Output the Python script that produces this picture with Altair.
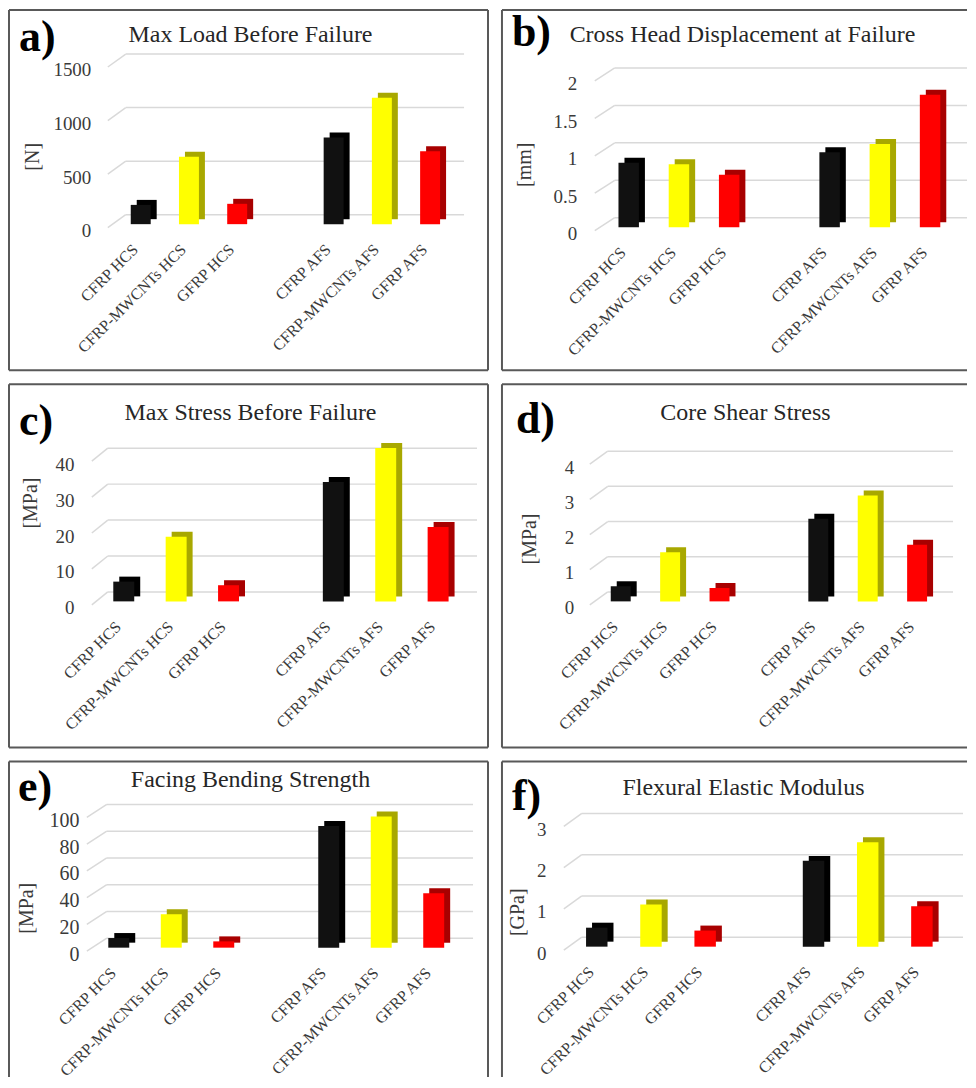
import altair as alt
import pandas as pd

# ---------------- data ----------------
categories = ["CFRP HCS", "CFRP-MWCNTs HCS", "GFRP HCS",
              "CFRP AFS", "CFRP-MWCNTs AFS", "GFRP AFS"]
spacer = " "
x_domain = categories[:3] + [spacer] + categories[3:]
front_colors = ["#111111", "#ffff00", "#ff0000"] * 2
side_colors = ["#000000", "#a8a800", "#a80000"] * 2

max_load = [180, 630, 190, 810, 1180, 680]
crosshead_disp = [0.86, 0.84, 0.70, 1.00, 1.11, 1.77]
max_stress = [5.5, 18.0, 4.5, 33.2, 42.7, 20.7]
core_shear = [0.43, 1.40, 0.38, 2.35, 3.01, 1.61]
facing_bending = [7.2, 25.0, 4.7, 91.0, 98.0, 40.7]
flexural_modulus = [0.46, 1.02, 0.39, 2.08, 2.53, 0.98]

ticks_a = [0, 500, 1000, 1500]
ticks_b = [0, 0.5, 1, 1.5, 2]
ticks_c = [0, 10, 20, 30, 40]
ticks_d = [0, 1, 2, 3, 4]
ticks_e = [0, 20, 40, 60, 80, 100]
ticks_f = [0, 1, 2, 3]

SERIF = "Liberation Serif"
TXT = "#3a3a3a"
BORDER = "#595959"
DEPTH = 9.5

W1, W2 = 480, 466
H1, H2, H3 = 361, 364, 310


def text_layer(txt, x, y, **kw):
    return alt.Chart(pd.DataFrame({"t": [txt]})).mark_text(**kw).encode(
        text="t:N", x=alt.value(x), y=alt.value(y))


def border_layer(x1, y1, x2, y2):
    return alt.Chart(pd.DataFrame({"k": [0]})).mark_rule(
        color=BORDER, strokeWidth=2).encode(
        x=alt.value(x1), y=alt.value(y1), x2=alt.value(x2), y2=alt.value(y2))


def panel(letter, title, unit, values, ticks, ymax, L, width, height, sides, bottom):
    df = pd.DataFrame({"cat": categories, "value": values,
                       "front": front_colors, "side": side_colors})
    tdf = pd.DataFrame({"tick": ticks})
    s, bw = L["step"], L["bw"]
    pi = 1 - bw / s
    r0 = L["c0"] - bw / 2
    r1 = r0 + s * (7 - pi)
    xs = alt.Scale(domain=x_domain, range=[r0, r1], paddingInner=pi, paddingOuter=0)
    ys = alt.Scale(domain=[0, ymax], range=[L["back0"], L["top"]], nice=False, zero=True)
    front_y = L["back0"] + DEPTH
    yaxis = alt.Axis(values=ticks, labelExpr="'' + datum.value", orient="left",
                     offset=-L["lr"], labelPadding=0, ticks=False, domain=False, grid=False,
                     labelOffset=16, labelFont=SERIF, labelFontSize=L.get("lfs", 19),
                     labelColor=TXT, title=None)
    xaxis = alt.Axis(values=categories, orient="bottom", offset=-(height - front_y),
                     labelAngle=-45, labelPadding=17, labelOffset=-11, ticks=False,
                     domain=False, grid=False, labelFont=SERIF, labelFontSize=16,
                     labelColor=TXT, title=None, labelLimit=300)
    grid = alt.Chart(tdf).mark_rule(color="#d9d9d9", strokeWidth=1.5).encode(
        x=alt.value(L["gx0"]), x2=alt.value(L["gx1"]),
        y=alt.Y("tick:Q", scale=ys, axis=yaxis))
    diag = alt.Chart(tdf).mark_rule(color="#d9d9d9", strokeWidth=1.5, yOffset=13).encode(
        x=alt.value(L["dx0"]), x2=alt.value(L["gx0"]),
        y=alt.Y("tick:Q", scale=ys, axis=yaxis), y2=alt.Y2("tick:Q"))
    side = alt.Chart(df).mark_bar(xOffset=6, x2Offset=6, yOffset=DEPTH - 5,
                                  y2Offset=DEPTH - 5).encode(
        x=alt.X("cat:N", scale=xs, axis=xaxis),
        y=alt.Y("value:Q", scale=ys, axis=yaxis),
        color=alt.Color("side:N", scale=None))
    front = alt.Chart(df).mark_bar(yOffset=DEPTH, y2Offset=DEPTH).encode(
        x=alt.X("cat:N", scale=xs, axis=xaxis),
        y=alt.Y("value:Q", scale=ys, axis=yaxis),
        color=alt.Color("front:N", scale=None))
    ttl = text_layer(title, L["tx"], L["ty"], font=SERIF, fontSize=24, color="#262626",
                     align="center", baseline="middle")
    let = text_layer(letter, L["lx"], L["ly"], font=SERIF, fontSize=44, fontWeight="bold",
                     color="#000000", align="left", baseline="middle")
    yt = text_layer(unit, L["ux"], L["uy"], font=SERIF, fontSize=20, color=TXT, angle=270,
                    align="center", baseline="middle")
    layers = [grid, diag, side, front, ttl, let, yt]
    if "top" in sides:
        layers.append(border_layer(0, 0, width, 0))
    if "left" in sides:
        layers.append(border_layer(0, 0, 0, bottom))
    if "right" in sides:
        layers.append(border_layer(width, 0, width, bottom))
    if "bottom" in sides:
        layers.append(border_layer(0, bottom, width, bottom))
    return alt.layer(*layers).properties(width=width, height=height)


La = dict(step=48.33, bw=20, c0=132, back0=205, top=44, dx0=99, gx0=117, gx1=456,
          lr=82, tx=242, ty=25, lx=10, ly=28, ux=24, uy=147)
Lb = dict(step=50.33, bw=20.5, c0=127, back0=208, top=58, dx0=93, gx0=113, gx1=466,
          lr=75, tx=241, ty=25, lx=10, ly=23, ux=23, uy=155)
Lc = dict(step=52.5, bw=21, c0=115, back0=208, top=64, dx0=83, gx0=99, gx1=469,
          lr=65, tx=242, ty=29, lx=10, ly=38, ux=22, uy=119)
Ld = dict(step=49.5, bw=20, c0=119, back0=208, top=67, dx0=88, gx0=106, gx1=452,
          lr=72, tx=244, ty=29, lx=14, ly=36, ux=28, uy=155)
Le = dict(step=52.6, bw=21, c0=110, back0=177, top=43, dx0=78, gx0=98, gx1=465,
          lr=70, tx=242, ty=19, lx=9, ly=27, ux=18, uy=147, lfs=20)
Lf = dict(step=54.3, bw=21.5, c0=95, back0=176, top=52, dx0=62, gx0=80, gx1=462,
          lr=44, tx=242, ty=27, lx=10, ly=36, ux=16, uy=151)

ALL = ("top", "left", "right", "bottom")
pa = panel("a)", "Max Load Before Failure", "[N]", max_load, ticks_a, 1500, La, W1, H1,
           ALL, H1)
pb = panel("b)", "Cross Head Displacement at Failure", "[mm]", crosshead_disp, ticks_b, 2,
           Lb, W2, H1, ("top", "left", "bottom"), H1)
pc = panel("c)", "Max Stress Before Failure", "[MPa]", max_stress, ticks_c, 40, Lc, W1, H2,
           ALL, H2)
pd_ = panel("d)", "Core Shear Stress", "[MPa]", core_shear, ticks_d, 4, Ld, W2, H2,
            ("top", "left", "bottom"), H2)
pe = panel("e)", "Facing Bending Strength", "[MPa]", facing_bending, ticks_e, 100, Le, W1, H3,
           ("top", "left", "right"), 316)
pf = panel("f)", "Flexural Elastic Modulus", "[GPa]", flexural_modulus, ticks_f, 3, Lf, W2, H3,
           ("top", "left"), 316)

chart = alt.concat(
    pa, pb, pc, pd_, pe, pf, columns=2, spacing=14, bounds="flush",
).properties(padding=0, background="white").configure_view(strokeWidth=0)

chart.save("out.html", embed_options={"renderer": "svg", "actions": False})
